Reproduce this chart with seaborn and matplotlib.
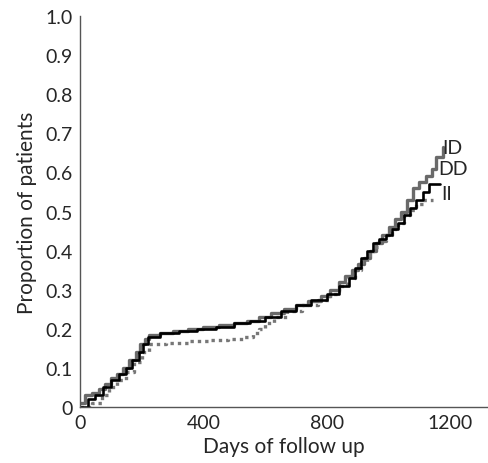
import matplotlib
matplotlib.use("Agg")
import matplotlib.pyplot as plt
import seaborn as sns

# Step-curve data (days, cumulative proportion)
id_days = [0, 15, 40, 60, 80, 100, 120, 140, 160, 180, 195, 210, 225, 260, 300, 350, 400, 450,
           500, 540, 580, 620, 660, 700, 740, 780, 810, 840, 860, 880, 900, 920, 940, 960,
           980, 1000, 1020, 1040, 1060, 1080, 1100, 1120, 1140, 1155, 1175]
id_vals = [0.01, 0.03, 0.035, 0.045, 0.06, 0.075, 0.085, 0.10, 0.12, 0.14, 0.16, 0.175, 0.185,
           0.19, 0.195, 0.20, 0.205, 0.21, 0.215, 0.22, 0.23, 0.24, 0.25, 0.26, 0.27, 0.285,
           0.30, 0.32, 0.335, 0.35, 0.365, 0.38, 0.40, 0.42, 0.44, 0.46, 0.48, 0.50, 0.53,
           0.56, 0.575, 0.59, 0.61, 0.64, 0.665]

ii_days = [0, 25, 50, 75, 100, 125, 150, 170, 190, 205, 220, 260, 320, 380, 440, 500, 550,
           600, 650, 700, 750, 800, 840, 870, 890, 910, 930, 950, 970, 990, 1010, 1030, 1050,
           1070, 1090, 1110, 1130, 1165]
ii_vals = [0.0, 0.02, 0.03, 0.05, 0.07, 0.085, 0.10, 0.12, 0.14, 0.16, 0.18, 0.19, 0.195, 0.20,
           0.205, 0.215, 0.22, 0.23, 0.245, 0.26, 0.275, 0.29, 0.31, 0.33, 0.355, 0.38, 0.40,
           0.42, 0.43, 0.44, 0.455, 0.47, 0.49, 0.51, 0.53, 0.55, 0.57, 0.57]

dd_days = [0, 40, 70, 95, 120, 150, 175, 200, 225, 280, 350, 420, 480, 530, 560, 580, 600,
           630, 670, 720, 770, 810, 840, 865, 890, 910, 930, 950, 970, 990, 1010, 1030, 1050,
           1070, 1090, 1110, 1145]
dd_vals = [0.0, 0.01, 0.03, 0.05, 0.07, 0.09, 0.115, 0.14, 0.16, 0.165, 0.17, 0.172, 0.175,
           0.18, 0.19, 0.20, 0.215, 0.23, 0.245, 0.26, 0.275, 0.29, 0.31, 0.33, 0.35, 0.37,
           0.39, 0.41, 0.425, 0.44, 0.455, 0.47, 0.49, 0.505, 0.52, 0.53, 0.53]

y_ticks = [0, 0.1, 0.2, 0.3, 0.4, 0.5, 0.6, 0.7, 0.8, 0.9, 1.0]
y_labels = ["0", "0.1", "0.2", "0.3", "0.4", "0.5", "0.6", "0.7", "0.8", "0.9", "1.0"]
x_ticks = [0, 400, 800, 1200]

sns.set_style("white")
plt.rcParams['font.family'] = ['Lato', 'DejaVu Sans']

fig = plt.figure(figsize=(4.89, 4.64), dpi=100)
ax = fig.add_axes([0.1636, 0.1207, 0.835, 0.8423])

sns.lineplot(x=id_days, y=id_vals, ax=ax, drawstyle='steps-post', color='#6a6a6a', lw=2.4,
             estimator=None, sort=False)
sns.lineplot(x=dd_days, y=dd_vals, ax=ax, drawstyle='steps-post', color='#777777', lw=2.4,
             linestyle=(0, (1, 1.2)), estimator=None, sort=False)
sns.lineplot(x=ii_days, y=ii_vals, ax=ax, drawstyle='steps-post', color='black', lw=1.9,
             estimator=None, sort=False)

ax.text(1175, 0.665, "ID", fontsize=14, va='center', ha='left')
ax.text(1160, 0.61, "DD", fontsize=14, va='center', ha='left')
ax.text(1170, 0.545, "II", fontsize=14, va='center', ha='left')

ax.set_xlim(0, 1323)
ax.set_ylim(0, 1.0)
ax.set_yticks(y_ticks)
ax.set_yticklabels(y_labels)
ax.set_xticks(x_ticks)
ax.tick_params(axis='both', direction='in', length=11, width=1, color='#555555',
               labelsize=14, pad=5)
for s in ['top', 'right']:
    ax.spines[s].set_visible(False)
for s in ['left', 'bottom']:
    ax.spines[s].set_color('#555555')
    ax.spines[s].set_linewidth(1)
ax.set_xlabel("Days of follow up", fontsize=15, labelpad=4)
ax.set_ylabel("Proportion of patients", fontsize=15, labelpad=6)

fig.savefig("out.png", dpi=100)
